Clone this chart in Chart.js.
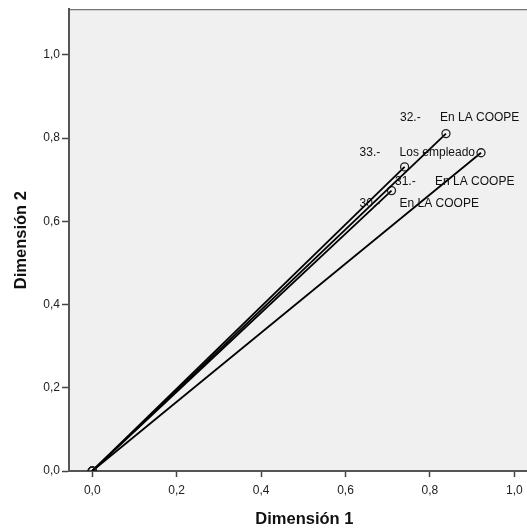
<!DOCTYPE html>
<html>
<head>
<meta charset="utf-8">
<script src="https://cdn.jsdelivr.net/npm/chart.js@4"></script>
<style>
  html, body { margin: 0; padding: 0; background: #fff; overflow: hidden; }
  #wrap { width: 545px; height: 529px; }
</style>
</head>
<body>
<div id="wrap"><canvas id="chart"></canvas></div>
<script>
// Cargas de componentes (Dimensión 1 / Dimensión 2)
const itemNums = ["32.-", "33.-", "31.-", "30.-"];
const itemTexts = ["En LA COOPE", "Los empleado", "En LA COOPE", "En LA COOPE"];
const dim1 = [0.838, 0.740, 0.921, 0.709];
const dim2 = [0.811, 0.731, 0.765, 0.674];
const tickValues = [0, 0.2, 0.4, 0.6, 0.8, 1.0];

// desplazamiento de cada etiqueta respecto a su punto (px)
const labelOffsets = [[-46, -16], [-45, -14], [-86, 29], [-32, 13]];

const fmt = v => v.toFixed(1).replace(".", ",");
const FONT = "'Liberation Sans', Arial, sans-serif";

const datasets = dim1.map((x, i) => ({
  data: [{ x: 0, y: 0 }, { x: x, y: dim2[i] }],
  showLine: true,
  borderColor: "#000",
  borderWidth: 1.8,
  pointRadius: 4,
  pointBorderWidth: 1.3,
  pointBorderColor: "#222",
  pointBackgroundColor: "rgba(0,0,0,0)"
}));

// Fondo gris y marco del área de trazado
const plotBg = {
  id: "plotBg",
  beforeDraw(chart) {
    const { ctx, chartArea: a } = chart;
    ctx.save();
    ctx.fillStyle = "#f0f0f0";
    ctx.fillRect(a.left, a.top, a.right - a.left, a.bottom - a.top);
    ctx.strokeStyle = "#555";
    ctx.lineWidth = 1;
    ctx.strokeRect(a.left + 0.5, a.top + 0.5, a.right - a.left, a.bottom - a.top);
    ctx.restore();
  }
};

// Etiquetas de los puntos
const pointLabels = {
  id: "pointLabels",
  afterDatasetsDraw(chart) {
    const { ctx, scales } = chart;
    ctx.save();
    ctx.font = "12px " + FONT;
    ctx.fillStyle = "#111";
    ctx.textBaseline = "middle";
    ctx.textAlign = "left";
    dim1.forEach((x, i) => {
      const px = scales.x.getPixelForValue(x) + labelOffsets[i][0];
      const py = scales.y.getPixelForValue(dim2[i]) + labelOffsets[i][1];
      ctx.fillText(itemNums[i], px, py);
      ctx.fillText(itemTexts[i], px + 40, py);
    });
    ctx.restore();
  }
};

new Chart(document.getElementById("chart"), {
  type: "scatter",
  data: { datasets },
  plugins: [plotBg, pointLabels],
  options: {
    responsive: true,
    maintainAspectRatio: false,
    animation: false,
    layout: { padding: { left: 0, top: 8, right: 0, bottom: 0 } },
    plugins: {
      legend: { display: false },
      tooltip: { enabled: false }
    },
    scales: {
      x: {
        type: "linear",
        min: -0.055,
        max: 1.06,
        afterBuildTicks(scale) {
          scale.ticks = tickValues.map(v => ({ value: v }));
        },
        afterFit(scale) { scale.height = 58; },
        ticks: {
          color: "#222",
          font: { family: FONT, size: 12 },
          padding: 6,
          callback: v => fmt(v)
        },
        grid: { drawOnChartArea: false, tickLength: 6, tickColor: "#444", tickWidth: 1.5 },
        border: { color: "#555", width: 2 },
        title: {
          display: true,
          text: "Dimensión 1",
          color: "#111",
          font: { family: FONT, size: 16.5, weight: "bold" },
          padding: { top: 2, bottom: 0 }
        }
      },
      y: {
        type: "linear",
        min: 0,
        max: 1.11,
        afterBuildTicks(scale) {
          scale.ticks = tickValues.map(v => ({ value: v }));
        },
        afterFit(scale) { scale.width = 69; },
        ticks: {
          color: "#222",
          font: { family: FONT, size: 12 },
          padding: 2,
          callback: v => fmt(v)
        },
        grid: { drawOnChartArea: false, tickLength: 7, tickColor: "#444", tickWidth: 1.5 },
        border: { color: "#555", width: 2 },
        title: {
          display: true,
          text: "Dimensión 2",
          color: "#111",
          font: { family: FONT, size: 16.5, weight: "bold" },
          padding: { top: 12, bottom: 0 }
        }
      }
    }
  }
});
</script>
</body>
</html>
